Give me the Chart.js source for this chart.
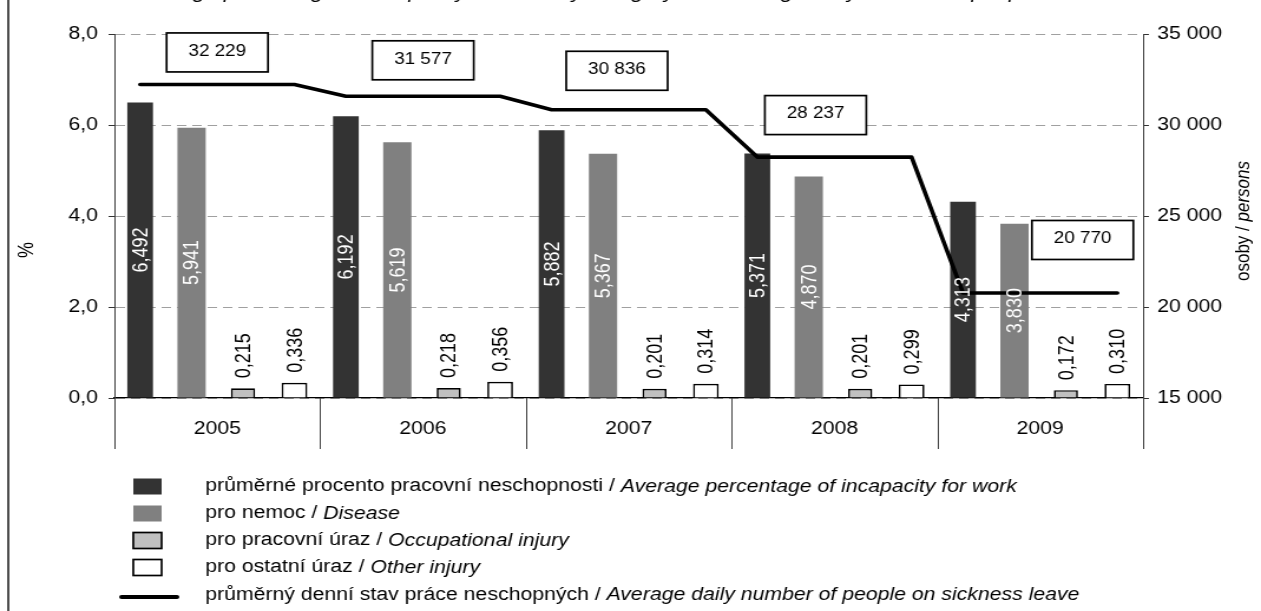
<!DOCTYPE html>
<html>
<head>
<meta charset="utf-8">
<script src="https://cdn.jsdelivr.net/npm/chart.js@4.4.1/dist/chart.umd.min.js"></script>
<style>
html, body { margin: 0; padding: 0; background: #fff; overflow: hidden; }
</style>
</head>
<body>
<canvas id="chart" height="611" style="display:block;width:1261px;height:611px"></canvas>
<script>
// values
const years = ['2005', '2006', '2007', '2008', '2009'];
const avgPercent = [6.492, 6.192, 5.882, 5.371, 4.313];
const disease = [5.941, 5.619, 5.367, 4.870, 3.830];
const occupationalInjury = [0.215, 0.218, 0.201, 0.201, 0.172];
const otherInjury = [0.336, 0.356, 0.314, 0.299, 0.310];
const dailySick = [32229, 31577, 30836, 28237, 20770];

const pctTicks = [0, 2, 4, 6, 8];
const personTicks = [15000, 20000, 25000, 30000, 35000];

const legendCz = [
    'průměrné procento pracovní neschopnosti / ',
    'pro nemoc / ',
    'pro pracovní úraz / ',
    'pro ostatní úraz / ',
    'průměrný denní stav práce neschopných / '
];
const legendEn = [
    'Average percentage of incapacity for work',
    'Disease',
    'Occupational injury',
    'Other injury',
    'Average daily number of people on sickness leave'
];
const titleEn = 'Average percentage of incapacity for work by category and average daily number of people on sickness leave';

// the original picture is stretched sideways, so draw narrower and stretch with css
const SX = 1.18;
const W = Math.round(1261 / SX);
const canvas = document.getElementById('chart');
canvas.width = W;

const FONT = '"Liberation Sans", Arial, sans-serif';
Chart.defaults.font.family = FONT;
Chart.defaults.color = '#000';

// label boxes of the line sit a bit above it, shifted by hand in the original
const boxDx = [0, 0, -10, -16, 36];
const boxDy = [-32, -36, -39, -42, -53];

function fmtDec(v, d) {
    return v.toFixed(d).replace('.', ',');
}

function fmtThousands(v) {
    return String(v).replace(/\B(?=(\d{3})+(?!\d))/g, ' ');
}

// every year has four slots, one per bar; the line is flat over them
const slotLabels = years.flatMap(y => [y + 'a', y + 'b', y + 'c', y + 'd']);
const lineData = dailySick.flatMap(v => [v, v, v, v]);

function inSlot(values, slot) {
    return values.map((v, i) => ({ x: slotLabels[i * 4 + slot], y: v }));
}

const decor = {
    id: 'decor',
    afterDatasetsDraw(chart) {
        const ctx = chart.ctx;
        const x = chart.scales.x;
        const y1 = chart.scales.y1;

        // bar values, rotated
        chart.data.datasets.forEach((ds, d) => {
            if (ds.type === 'line') return;
            const meta = chart.getDatasetMeta(d);
            meta.data.forEach((bar, i) => {
                const txt = fmtDec(ds.data[i].y, 3);
                ctx.save();
                ctx.font = '18px ' + FONT;
                ctx.textBaseline = 'middle';
                if (ds.labelInside) {
                    ctx.translate(bar.x, (bar.y + bar.base) / 2);
                    ctx.rotate(-Math.PI / 2);
                    ctx.textAlign = 'center';
                    ctx.fillStyle = '#fff';
                } else {
                    ctx.translate(bar.x, bar.y - 10);
                    ctx.rotate(-Math.PI / 2);
                    ctx.textAlign = 'left';
                    ctx.fillStyle = '#000';
                }
                ctx.fillText(txt, 0, 1);
                ctx.restore();
            });
        });

        // boxed values of the line
        dailySick.forEach((v, i) => {
            const cx = x.getPixelForValue(i) + boxDx[i];
            const cy = y1.getPixelForValue(v) + boxDy[i];
            const bw = 86, bh = 39;
            ctx.save();
            ctx.fillStyle = '#fff';
            ctx.fillRect(cx - bw / 2, cy - bh / 2, bw, bh);
            ctx.strokeStyle = '#000';
            ctx.lineWidth = 1.7;
            ctx.strokeRect(cx - bw / 2, cy - bh / 2, bw, bh);
            ctx.fillStyle = '#000';
            ctx.font = '16px ' + FONT;
            ctx.textAlign = 'center';
            ctx.textBaseline = 'middle';
            ctx.fillText(fmtThousands(v), cx, cy - 1);
            ctx.restore();
        });
    },
    afterDraw(chart) {
        const ctx = chart.ctx;
        const x = chart.scales.x;
        const area = chart.chartArea;

        ctx.save();
        // category separators below the axis
        ctx.strokeStyle = '#404040';
        ctx.lineWidth = 1;
        for (let i = 0; i <= years.length; i++) {
            const px = Math.round(x.left + i * x.width / years.length) + 0.5;
            ctx.beginPath();
            ctx.moveTo(px, area.bottom);
            ctx.lineTo(px, 449);
            ctx.stroke();
        }

        // outer frame line on the left
        ctx.strokeStyle = '#000';
        ctx.lineWidth = 1.4;
        ctx.beginPath();
        ctx.moveTo(7, 0);
        ctx.lineTo(7, 611);
        ctx.stroke();

        // title, cut off at the top so only descenders show
        ctx.fillStyle = '#000';
        ctx.font = 'italic 19px ' + FONT;
        ctx.textAlign = 'center';
        ctx.textBaseline = 'alphabetic';
        ctx.fillText(titleEn, 575, -2);

        // axis titles
        ctx.font = '18px ' + FONT;
        ctx.textBaseline = 'middle';
        ctx.save();
        ctx.translate(23, 250);
        ctx.rotate(-Math.PI / 2);
        ctx.textAlign = 'center';
        ctx.fillText('%', 0, 0);
        ctx.restore();

        ctx.save();
        ctx.translate(1054, 221);
        ctx.rotate(-Math.PI / 2);
        ctx.textAlign = 'left';
        ctx.font = '17px ' + FONT;
        const a = 'osoby / ';
        const wa = ctx.measureText(a).width;
        ctx.font = 'italic 17px ' + FONT;
        const b = 'persons';
        const wb = ctx.measureText(b).width;
        ctx.font = '17px ' + FONT;
        ctx.fillText(a, -(wa + wb) / 2, 0);
        ctx.font = 'italic 17px ' + FONT;
        ctx.fillText(b, -(wa + wb) / 2 + wa, 0);
        ctx.restore();

        // legend, one row per series
        const rowY = [486.5, 513.5, 540.5, 567.5, 595];
        chart.data.datasets.forEach((ds, r) => {
            const cy = rowY[r];
            if (ds.type === 'line') {
                ctx.strokeStyle = ds.borderColor;
                ctx.lineWidth = 4;
                ctx.lineCap = 'round';
                ctx.beginPath();
                ctx.moveTo(103, cy + 2);
                ctx.lineTo(150, cy + 2);
                ctx.stroke();
            } else {
                ctx.fillStyle = ds.backgroundColor;
                ctx.fillRect(113, cy - 8, 24, 16);
                if (ds.borderWidth) {
                    ctx.strokeStyle = ds.borderColor;
                    ctx.lineWidth = 1.7;
                    ctx.strokeRect(113, cy - 8, 24, 16);
                }
            }
            ctx.fillStyle = '#000';
            ctx.textAlign = 'left';
            ctx.textBaseline = 'middle';
            ctx.font = '18px ' + FONT;
            ctx.fillText(legendCz[r], 174, cy);
            const w = ctx.measureText(legendCz[r]).width;
            ctx.font = 'italic 18px ' + FONT;
            ctx.fillText(legendEn[r], 174 + w, cy);
        });
        ctx.restore();
    }
};

new Chart(canvas, {
    type: 'bar',
    data: {
        labels: years,
        datasets: [
            {
                label: legendEn[0],
                data: inSlot(avgPercent, 0),
                xAxisID: 'x2',
                backgroundColor: '#333333',
                barPercentage: 0.5,
                labelInside: true,
                order: 1
            },
            {
                label: legendEn[1],
                data: inSlot(disease, 1),
                xAxisID: 'x2',
                backgroundColor: '#808080',
                barPercentage: 0.55,
                labelInside: true,
                order: 1
            },
            {
                label: legendEn[2],
                data: inSlot(occupationalInjury, 2),
                xAxisID: 'x2',
                backgroundColor: '#c0c0c0',
                borderColor: '#000',
                borderWidth: 1.7,
                barPercentage: 0.47,
                order: 1
            },
            {
                label: legendEn[3],
                data: inSlot(otherInjury, 3),
                xAxisID: 'x2',
                backgroundColor: '#ffffff',
                borderColor: '#000',
                borderWidth: 1.7,
                barPercentage: 0.5,
                order: 1
            },
            {
                type: 'line',
                label: legendEn[4],
                data: lineData,
                xAxisID: 'x2',
                yAxisID: 'y1',
                borderColor: '#000',
                borderWidth: 3.6,
                borderCapStyle: 'round',
                borderJoinStyle: 'round',
                pointRadius: 0,
                tension: 0,
                fill: false,
                order: 0
            }
        ]
    },
    options: {
        responsive: false,
        animation: false,
        devicePixelRatio: 1,
        layout: { padding: { top: 34, left: 0, right: 0, bottom: 0 } },
        datasets: {
            bar: { grouped: false, categoryPercentage: 1 }
        },
        plugins: {
            legend: { display: false },
            tooltip: { enabled: false },
            title: { display: false }
        },
        scales: {
            x: {
                type: 'category',
                offset: true,
                grid: { display: false, drawTicks: false },
                border: { display: true, color: '#000', width: 1.2 },
                ticks: { color: '#000', font: { size: 18 }, padding: 20, maxRotation: 0 },
                afterFit: s => { s.height = 213; }
            },
            x2: {
                type: 'category',
                labels: slotLabels,
                offset: true,
                display: false
            },
            y: {
                position: 'left',
                min: pctTicks[0],
                max: pctTicks[pctTicks.length - 1],
                ticks: {
                    stepSize: pctTicks[1] - pctTicks[0],
                    callback: v => fmtDec(v, 1),
                    font: { size: 18 },
                    color: '#000',
                    padding: 9
                },
                grid: {
                    color: '#a0a0a0',
                    lineWidth: 1,
                    tickLength: 5,
                    tickColor: '#333',
                    tickWidth: 1,
                    tickBorderDash: []
                },
                border: { display: true, color: '#404040', width: 1, dash: [8, 5] },
                afterFit: s => { s.width = 97; }
            },
            y1: {
                position: 'right',
                min: personTicks[0],
                max: personTicks[personTicks.length - 1],
                ticks: {
                    stepSize: personTicks[1] - personTicks[0],
                    callback: v => fmtThousands(v),
                    font: { size: 18 },
                    color: '#000',
                    padding: 7
                },
                grid: { drawOnChartArea: false, tickLength: 5, color: '#333' },
                border: { display: true, color: '#404040', width: 1 },
                afterFit: s => { s.width = W - 969; }
            }
        }
    },
    plugins: [decor]
});
</script>
</body>
</html>
